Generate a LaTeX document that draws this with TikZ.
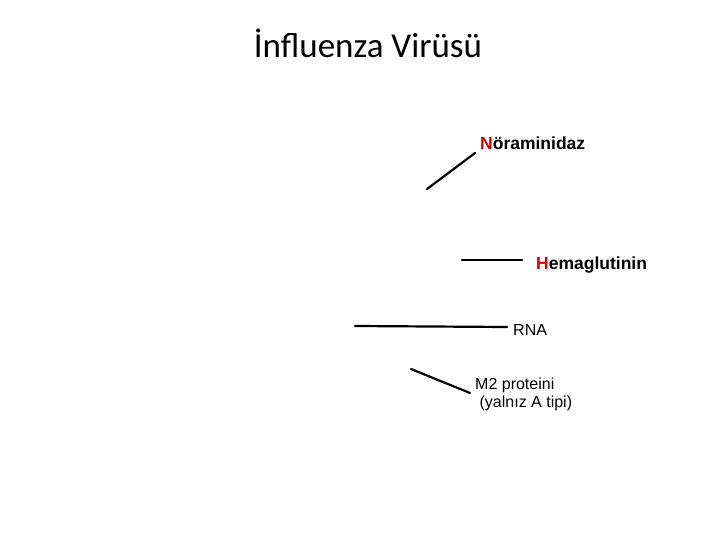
\documentclass[tikz,border=0pt]{standalone}
\usepackage{fontspec}
\setmainfont{Liberation Sans}
\newfontfamily\titlefont{Carlito}
\definecolor{hred}{RGB}{204,0,0}
\begin{document}
\begin{tikzpicture}[x=1pt,y=-1pt,
  lbl/.style={anchor=base west,inner sep=0pt,font=\fontsize{16}{18}\selectfont},
  blbl/.style={anchor=base west,inner sep=0pt,font=\fontsize{17.5}{20}\selectfont\bfseries},
  conn/.style={line width=2.2pt,line cap=round}]
\useasboundingbox (0,0) rectangle (720,540);
\node[anchor=base,inner sep=0pt,font=\titlefont\fontsize{35}{40}\selectfont] (title) at (368,58) {İnfluenza Virüsü};
\node[blbl] (nor) at (480,150) {\textcolor{hred}{N}öraminidaz};
\node[blbl] (hem) at (536,269) {\textcolor{hred}{H}emaglutinin};
\node[lbl] (rna) at (513,335) {RNA};
\node[lbl,align=left] (m2) at (475,407) {M2 proteini\\\ (yalnız A tipi)};
\coordinate (n1) at (427,189); \coordinate (n2) at (475,153);
\coordinate (h1) at (462,260); \coordinate (h2) at (522,260);
\coordinate (r1) at (355,326); \coordinate (r2) at (507,327);
\coordinate (m1) at (411,369); \coordinate (m2e) at (470,393);
\draw[conn] (n1) -- (n2);
\draw[conn] (h1) -- (h2);
\draw[conn] (r1) -- (r2);
\draw[conn] (m1) -- (m2e);
\end{tikzpicture}
\end{document}
